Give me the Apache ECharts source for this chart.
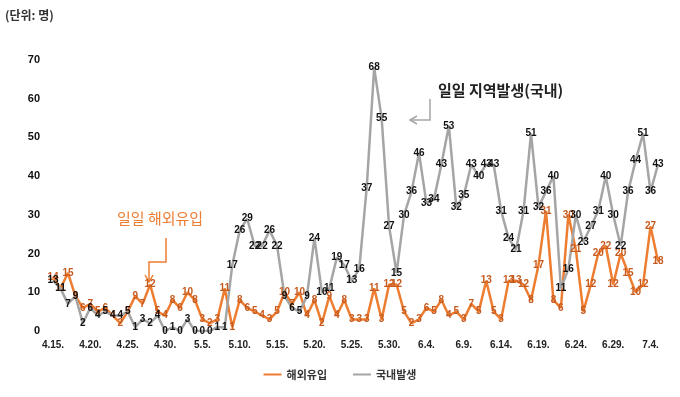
<!DOCTYPE html>
<html>
<head>
<meta charset="utf-8">
<script src="https://cdn.jsdelivr.net/npm/echarts@6/dist/echarts.min.js"></script>
<style>
html,body{margin:0;padding:0;background:#fff;}
#main{width:680px;height:397px;}
</style>
</head>
<body>
<div id="main"></div>
<script>
var dates = [
 '4.15.','4.16.','4.17.','4.18.','4.19.','4.20.','4.21.','4.22.','4.23.','4.24.',
 '4.25.','4.26.','4.27.','4.28.','4.29.','4.30.','5.1.','5.2.','5.3.','5.4.',
 '5.5.','5.6.','5.7.','5.8.','5.9.','5.10.','5.11.','5.12.','5.13.','5.14.',
 '5.15.','5.16.','5.17.','5.18.','5.19.','5.20.','5.21.','5.22.','5.23.','5.24.',
 '5.25.','5.26.','5.27.','5.28.','5.29.','5.30.','5.31.','6.1.','6.2.','6.3.',
 '6.4.','6.5.','6.6.','6.7.','6.8.','6.9.','6.10.','6.11.','6.12.','6.13.',
 '6.14.','6.15.','6.16.','6.17.','6.18.','6.19.','6.20.','6.21.','6.22.','6.23.',
 '6.24.','6.25.','6.26.','6.27.','6.28.','6.29.','6.30.','7.1.','7.2.','7.3.',
 '7.4.','7.5.'
];
var domestic = [
 13,11,7,9,2,6,4,5,4,4,
 5,1,3,2,4,0,1,0,3,0,
 0,0,1,1,17,26,29,22,22,26,
 22,9,6,5,9,24,10,11,19,17,
 13,16,37,68,55,27,15,30,36,46,
 33,34,43,53,32,35,43,40,43,43,
 31,24,21,31,51,32,36,40,11,16,
 30,23,27,31,40,30,22,36,44,51,
 36,43
];
var imported = [
 14,11,15,9,6,7,5,6,4,2,
 5,9,7,12,5,4,8,6,10,8,
 3,2,3,11,1,8,6,5,4,3,
 5,10,7,10,4,8,2,9,4,8,
 3,3,3,11,3,12,12,5,2,3,
 6,5,8,4,5,3,7,5,13,5,
 3,13,13,12,8,17,31,8,6,30,
 21,5,12,20,22,12,20,15,10,12,
 27,18
];
var yTicks = [0,10,20,30,40,50,60,70];
var seriesNames = ['해외유입','국내발생'];

var chart = echarts.init(document.getElementById('main'), null, {renderer:'canvas'});
var numFont = 'Liberation Sans, Arial, sans-serif';
var krFont = '"Noto Sans CJK KR", sans-serif';

chart.setOption({
  animation:false,
  backgroundColor:'#fff',
  grid:{left:53,right:22,top:60,bottom:66},
  legend:{
    data:seriesNames,
    bottom:12,
    left:'center',
    icon:'rect',
    itemWidth:18,
    itemHeight:2,
    itemGap:26,
    textStyle:{fontFamily:krFont,fontSize:11,fontWeight:'bold',color:'#333'}
  },
  xAxis:{
    type:'category',
    data:dates,
    boundaryGap:false,
    axisLine:{show:false},
    axisTick:{show:false},
    axisLabel:{interval:4,margin:9,fontFamily:numFont,fontSize:10,fontWeight:'bold',color:'#222'}
  },
  yAxis:{
    type:'value',
    min:yTicks[0],
    max:yTicks[yTicks.length-1],
    interval:10,
    splitLine:{show:false},
    axisLine:{show:false},
    axisTick:{show:false},
    axisLabel:{margin:13,fontFamily:numFont,fontSize:11,fontWeight:'bold',color:'#111'}
  },
  series:[
    {
      name:seriesNames[0],
      type:'line',
      data:imported,
      symbol:'circle',
      symbolSize:1,
      itemStyle:{color:'#ED7D31'},
      lineStyle:{color:'#ED7D31',width:2.5},
      label:{show:true,position:'inside',fontFamily:numFont,fontSize:10,fontWeight:'bold',color:'#C65A1E'}
    },
    {
      name:seriesNames[1],
      type:'line',
      data:domestic,
      symbol:'circle',
      symbolSize:1,
      itemStyle:{color:'#A5A5A5'},
      lineStyle:{color:'#A5A5A5',width:2.5},
      label:{show:true,position:'inside',fontFamily:numFont,fontSize:10,fontWeight:'bold',color:'#111'}
    }
  ],
  graphic:[
    {type:'text',left:5,top:9,style:{text:'(단위: 명)',font:'bold 12px "Noto Sans CJK KR", sans-serif',fill:'#333'}},
    {type:'text',left:117,top:211,style:{text:'일일 해외유입',font:'15px "Noto Sans CJK KR", sans-serif',fill:'#ED7D31'}},
    {type:'polyline',shape:{points:[[166,238],[166,262],[149,262],[149,281]]},style:{stroke:'#ED7D31',lineWidth:1.5,fill:null}},
    {type:'polyline',shape:{points:[[145,275],[149,282],[153,275]]},style:{stroke:'#ED7D31',lineWidth:1.5,fill:null}},
    {type:'text',left:438,top:83,style:{text:'일일 지역발생(국내)',font:'bold 15px "Noto Sans CJK KR", sans-serif',fill:'#222'}},
    {type:'polyline',shape:{points:[[430,99],[430,120],[410,120]]},style:{stroke:'#A5A5A5',lineWidth:1.5,fill:null}},
    {type:'polyline',shape:{points:[[417,116],[410,120],[417,124]]},style:{stroke:'#A5A5A5',lineWidth:1.5,fill:null}}
  ]
});
</script>
</body>
</html>
